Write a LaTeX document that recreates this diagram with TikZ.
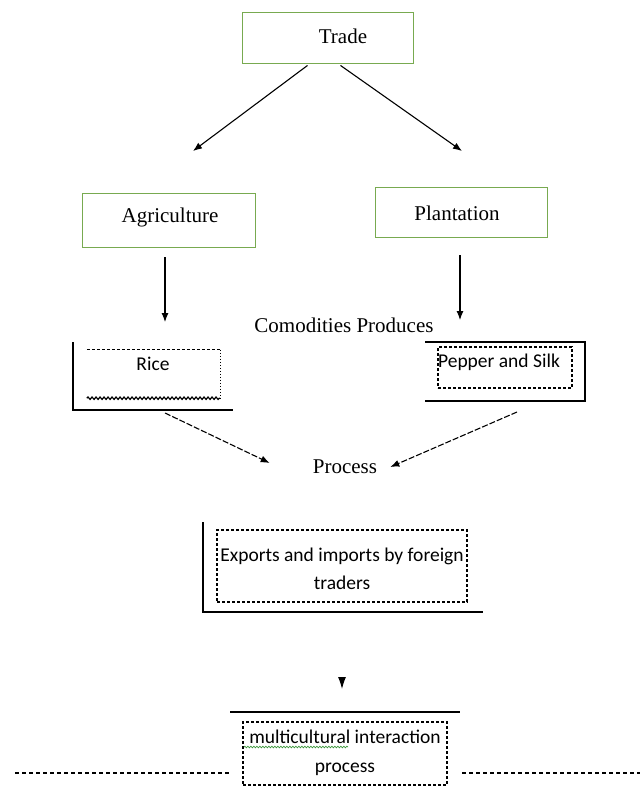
\documentclass[tikz,border=0pt]{standalone}
\usepackage{fontspec}
\setmainfont{Liberation Serif}
\newfontfamily\sansf{Carlito}
\usetikzlibrary{arrows.meta,decorations.pathmorphing,calc}
\definecolor{boxgreen}{RGB}{120,170,80}
\definecolor{spellgreen}{RGB}{60,150,60}
\begin{document}
\begin{tikzpicture}[x=1pt,y=-1pt,
  gbox/.style={draw=boxgreen, line width=0.9pt, inner sep=0pt},
  plainbox/.style={inner sep=0pt},
  serift/.style={font=\fontsize{21}{25}\selectfont, inner sep=0pt},
  sanst/.style={font=\sansf\fontsize{19.5}{28.5}\selectfont, inner sep=0pt, align=center},
  arr/.style={-{Latex[length=9pt,width=7pt]}, line width=1.1pt},
  darr/.style={arr, dash pattern=on 6pt off 2pt},
  bracketline/.style={line width=1.6pt},
  dbox/.style={draw, dash pattern=on 3pt off 2pt, line width=1.1pt},
  dotline/.style={dash pattern=on 1.5pt off 1.5pt, line width=1.1pt},
  wavy/.style={decorate, decoration={snake, segment length=4pt, amplitude=1.2pt}, line width=1.2pt},
  sepline/.style={dash pattern=on 4pt off 3pt, line width=1.3pt}
]
\useasboundingbox (0,0) rectangle (643,793);

% Trade
\node[gbox, minimum width=171pt, minimum height=51pt] (trade) at (327.5,37.5) {};
\node[serift] (tradet) at (343,36) {Trade};

% Agriculture / Plantation
\node[gbox, minimum width=173pt, minimum height=54pt] (agri) at (168.5,220) {};
\node[serift] (agrit) at (170,217) {Agriculture};
\node[gbox, minimum width=172pt, minimum height=50pt] (plant) at (461,212) {};
\node[serift] (plantt) at (457,213) {Plantation};

\coordinate (agriin) at (193,151);
\coordinate (plantin) at (462,151);
\draw[arr] ($(trade.south)+(-20,2)$) -- (agriin);
\draw[arr] ($(trade.south)+(13,2)$) -- (plantin);

% down arrows
\coordinate (riceend) at (165,322);
\coordinate (pepend) at (460,320);
\draw[arr] ($(agri.south)+(-3.5,10)$) -- (riceend);
\draw[arr] ($(plant.south)+(-1,18)$) -- (pepend);

\node[serift] (comod) at (344,325) {Comodities Produces};

% Rice
\node[plainbox, minimum width=133pt, minimum height=48pt] (ricebox) at (153.5,374) {};
\draw[dbox] (ricebox.north west) -- (ricebox.north east);
\draw[dotline] (ricebox.north east) -- (ricebox.south east);
\draw[wavy] (ricebox.south west) -- (ricebox.south east);
\node[sanst] (ricet) at (153,364) {Rice};
\draw[bracketline] (73,342) -- (73,410) -- (233,410);

% Pepper and Silk
\node[dbox, minimum width=134pt, minimum height=41pt, inner sep=0pt] (pepbox) at (505,367.5) {};
\node[sanst] (pept) at (499,362) {Pepper and Silk};
\draw[bracketline] (425,342) -- (585,342) -- (585,401) -- (425,401);

% Process
\node[serift] (proc) at (345,467) {Process};
\coordinate (riceout) at (165,413);
\coordinate (pepout) at (517,412);
\draw[darr] (riceout) -- ($(proc.west)+(-43,-4)$);
\draw[darr] (pepout) -- ($(proc.east)+(13,0)$);

% Exports
\node[dbox, minimum width=250pt, minimum height=72pt, inner sep=0pt] (expbox) at (342,566) {};
\node[sanst] (expt) at (342,569) {Exports and imports by foreign\\traders};
\draw[bracketline] (203,522) -- (203,612) -- (483,612);

% arrow head only
\coordinate (headtop) at (342,677);
\coordinate (headbot) at (342,689);
\draw[-{Latex[length=12pt,width=8pt]}, line width=1pt] (headtop) -- (headbot);

% multicultural
\draw[bracketline] (230,712) -- (460,712);
\node[dbox, minimum width=204pt, minimum height=63pt, inner sep=0pt] (multbox) at (345,753.5) {};
\node[sanst] (multt) at (345,753) {multicultural interaction\\process};
\draw[wavy, draw=spellgreen, line width=0.7pt, decoration={snake, segment length=3pt, amplitude=0.8pt}] (244,747) -- (348,747);

% separator dotted lines
\draw[sepline] (15,773) -- (230,773);
\draw[sepline] (462,773) -- (640,773);
\end{tikzpicture}
\end{document}
